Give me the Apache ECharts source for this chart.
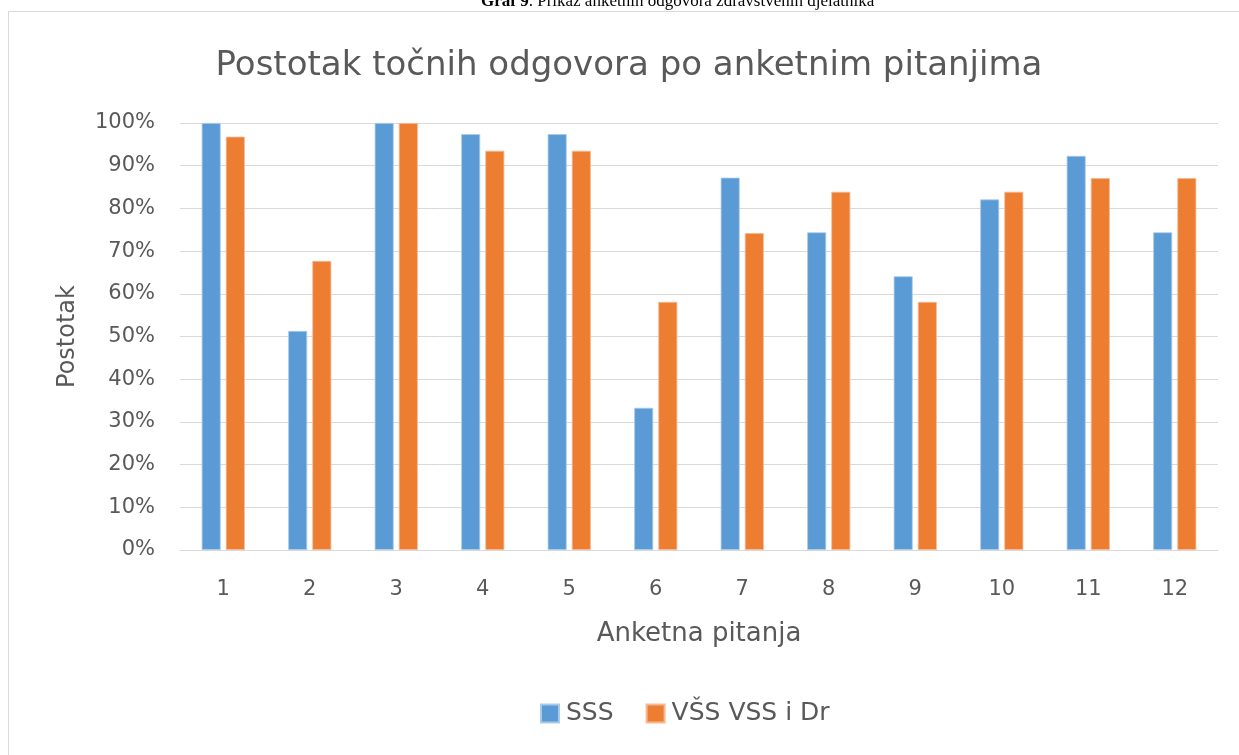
<!DOCTYPE html>
<html>
<head>
<meta charset="utf-8">
<script src="https://cdn.jsdelivr.net/npm/echarts@6/dist/echarts.min.js"></script>
<style>
  html, body { margin: 0; padding: 0; background: #fff; }
  #chart { width: 1239px; height: 755px; }
</style>
</head>
<body>
<div id="chart"></div>
<script>
const categories = ['1', '2', '3', '4', '5', '6', '7', '8', '9', '10', '11', '12'];
const sssValues = [100, 51.3, 100, 97.4, 97.4, 33.3, 87.2, 74.4, 64.1, 82.1, 92.3, 74.4];
const vssValues = [96.8, 67.7, 100, 93.5, 93.5, 58.1, 74.2, 83.9, 58.1, 83.9, 87.1, 87.1];
const seriesNames = ['SSS', 'VŠS VSS i Dr'];
const chartTitle = 'Postotak točnih odgovora po anketnim pitanjima';
const yAxisName = 'Postotak';
const xAxisName = 'Anketna pitanja';
const captionBold = 'Graf 9';
const captionRest = '. Prikaz anketnih odgovora zdravstvenih djelatnika';

const chart = echarts.init(document.getElementById('chart'), null, { renderer: 'canvas' });
const txt = '#595959';
const font = '"DejaVu Sans", "Open Sans", sans-serif';
const serif = '"Liberation Serif", "DejaVu Serif", serif';

chart.setOption({
  animation: false,
  backgroundColor: '#ffffff',
  textStyle: { fontFamily: font },
  graphic: [
    { type: 'rect', shape: { x: 8.5, y: 11.5, width: 1300, height: 800 },
      style: { fill: 'none', stroke: '#D9D9D9', lineWidth: 1 }, silent: true },
    { type: 'text', left: 481, top: -7,
      style: { text: '{b|' + captionBold + '}{r|' + captionRest + '}',
        rich: {
          b: { fontFamily: serif, fontWeight: 'bold', fontSize: 17, fill: '#000' },
          r: { fontFamily: serif, fontSize: 17, fill: '#000' }
        } } },
    { type: 'text', x: 629, y: 66,
      style: { text: chartTitle, fill: txt, fontSize: 34, fontFamily: font,
        align: 'center', verticalAlign: 'middle' } }
  ],
  legend: {
    data: seriesNames,
    top: 696,
    left: 535,
    itemWidth: 18,
    itemHeight: 18,
    itemGap: 32,
    icon: 'rect',
    textStyle: { color: txt, fontSize: 25, fontFamily: font, padding: [0, 0, 0, 2] }
  },
  grid: { left: 180, right: 21, top: 123, bottom: 205 },
  xAxis: {
    type: 'category',
    data: categories,
    name: xAxisName,
    nameLocation: 'middle',
    nameGap: 71,
    nameTextStyle: { color: txt, fontSize: 26, fontFamily: font },
    axisLine: { lineStyle: { color: '#D9D9D9', width: 1 } },
    axisTick: { show: false },
    axisLabel: { color: txt, fontSize: 21, margin: 29, fontFamily: font }
  },
  yAxis: {
    type: 'value',
    min: 0,
    max: 100,
    interval: 10,
    name: yAxisName,
    nameLocation: 'middle',
    nameGap: 100,
    nameTextStyle: { color: txt, fontSize: 24, fontFamily: font },
    axisLine: { show: false },
    axisTick: { show: false },
    splitLine: { lineStyle: { color: '#D9D9D9', width: 1 } },
    axisLabel: { color: txt, fontSize: 21, margin: 25, fontFamily: font, formatter: '{value}%' }
  },
  series: [
    { name: seriesNames[0], type: 'bar', data: sssValues, barWidth: 19, barGap: '27%',
      itemStyle: { color: '#5B9BD5', borderColor: '#A9CBEA', borderWidth: 0.8 } },
    { name: seriesNames[1], type: 'bar', data: vssValues, barWidth: 19,
      itemStyle: { color: '#ED7D31', borderColor: '#F6B995', borderWidth: 0.8 } }
  ]
});
</script>
</body>
</html>
